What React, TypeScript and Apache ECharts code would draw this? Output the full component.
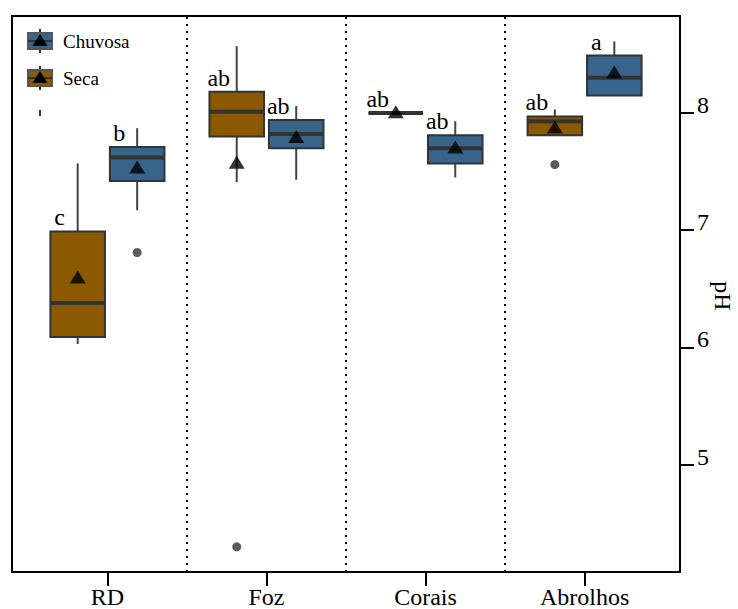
import React, { useEffect, useRef } from "react";
import * as echarts from "echarts";

const sites = ["RD", "Foz", "Corais", "Abrolhos"];
const sitePositions = [1, 2, 3, 4];
const yTicks = [5, 6, 7, 8];

// Seca (dry season)
const secaMin = [6.03, 7.41, 8.0, 7.81];
const secaQ1 = [6.09, 7.8, 8.0, 7.81];
const secaMedian = [6.38, 8.01, 8.0, 7.93];
const secaQ3 = [6.99, 8.18, 8.0, 7.97];
const secaMax = [7.57, 8.57, 8.0, 8.03];
const secaMean = [6.6, 7.58, 8.01, 7.88];
const secaLetters = ["c", "ab", "ab", "ab"];
const secaOutliers: [number, number][] = [
  [1, 4.3],
  [3, 7.56],
];

// Chuvosa (rainy season)
const chuvosaMin = [7.17, 7.43, 7.45, 8.15];
const chuvosaQ1 = [7.42, 7.7, 7.57, 8.15];
const chuvosaMedian = [7.62, 7.82, 7.7, 8.3];
const chuvosaQ3 = [7.71, 7.94, 7.81, 8.49];
const chuvosaMax = [7.87, 8.06, 7.93, 8.61];
const chuvosaMean = [7.54, 7.8, 7.71, 8.35];
const chuvosaLetters = ["b", "ab", "ab", "a"];
const chuvosaOutliers: [number, number][] = [[0, 6.81]];

const BLUE = "#36648B";
const BROWN = "#8B5A00";
const OFFSET = 0.187;
const BOX_WIDTH = 0.343;
const FONT = "Liberation Serif";

function buildBoxes(offset: number, mn: number[], q1: number[], md: number[], q3: number[], mx: number[]) {
  return sitePositions.map((p, i) => [p + offset, mn[i], q1[i], md[i], q3[i], mx[i]]);
}

function makeBoxSeries(name: string, data: number[][], color: string) {
  return {
    type: "custom",
    name,
    z: 3,
    encode: { x: 0, y: [1, 2, 3, 4, 5] },
    data,
    renderItem: (params: any, api: any) => {
      const x = api.value(0);
      const pMin = api.coord([x, api.value(1)]);
      const pQ1 = api.coord([x, api.value(2)]);
      const pMed = api.coord([x, api.value(3)]);
      const pQ3 = api.coord([x, api.value(4)]);
      const pMax = api.coord([x, api.value(5)]);
      const half = api.size([BOX_WIDTH, 0])[0] / 2;
      const cx = pMed[0];
      return {
        type: "group",
        children: [
          {
            type: "line",
            shape: { x1: cx, y1: pQ3[1], x2: cx, y2: pMax[1] },
            style: { stroke: "#444", lineWidth: 2 },
          },
          {
            type: "line",
            shape: { x1: cx, y1: pQ1[1], x2: cx, y2: pMin[1] },
            style: { stroke: "#444", lineWidth: 2 },
          },
          {
            type: "rect",
            shape: { x: cx - half, y: pQ3[1], width: half * 2, height: pQ1[1] - pQ3[1] },
            style: { fill: color, stroke: "#333", lineWidth: 2 },
          },
          {
            type: "line",
            shape: { x1: cx - half, y1: pMed[1], x2: cx + half, y2: pMed[1] },
            style: { stroke: "#333", lineWidth: 4 },
          },
        ],
      };
    },
  };
}

export default function App() {
  const ref = useRef<HTMLDivElement>(null);
  useEffect(() => {
    if (!ref.current) return;
    const chart = echarts.init(ref.current, null, { renderer: "svg" });

    const secaBoxes = buildBoxes(-OFFSET, secaMin, secaQ1, secaMedian, secaQ3, secaMax);
    const chuvosaBoxes = buildBoxes(OFFSET, chuvosaMin, chuvosaQ1, chuvosaMedian, chuvosaQ3, chuvosaMax);
    const means = [
      ...sitePositions.map((p, i) => [p - OFFSET, secaMean[i]]),
      ...sitePositions.map((p, i) => [p + OFFSET, chuvosaMean[i]]),
    ];
    const outliers = [
      ...secaOutliers.map(([i, v]) => [sitePositions[i] - OFFSET, v]),
      ...chuvosaOutliers.map(([i, v]) => [sitePositions[i] + OFFSET, v]),
    ];
    const letterData = [
      ...sitePositions.map((p, i) => ({ value: [p - OFFSET, secaQ3[i]], letter: secaLetters[i] })),
      ...sitePositions.map((p, i) => ({ value: [p + OFFSET, chuvosaQ3[i]], letter: chuvosaLetters[i] })),
    ];

    const legendItems = [
      { label: "Chuvosa", color: BLUE, y: 41 },
      { label: "Seca", color: BROWN, y: 78 },
    ];
    const legendGraphics: any[] = [];
    legendItems.forEach((it) => {
      legendGraphics.push(
        { type: "line", shape: { x1: 40, y1: it.y - 12, x2: 40, y2: it.y + 12 }, style: { stroke: "#333", lineWidth: 2 } },
        { type: "rect", shape: { x: 28, y: it.y - 8, width: 24, height: 16 }, style: { fill: it.color, stroke: "#555", lineWidth: 2 } },
        { type: "line", shape: { x1: 28, y1: it.y, x2: 52, y2: it.y }, style: { stroke: "#333", lineWidth: 2 } },
        { type: "polygon", shape: { points: [[40, it.y - 7], [32.5, it.y + 5], [47.5, it.y + 5]] }, style: { fill: "#000" } },
        { type: "text", x: 63, y: it.y, style: { text: it.label, fontFamily: FONT, fontSize: 19, fill: "#000", verticalAlign: "middle" } }
      );
    });
    legendGraphics.push({ type: "line", shape: { x1: 40, y1: 110, x2: 40, y2: 116 }, style: { stroke: "#333", lineWidth: 2 } });
    legendGraphics.push({
      type: "text",
      x: 723,
      y: 296,
      rotation: -Math.PI / 2,
      style: { text: "pH", fontFamily: FONT, fontSize: 24, fill: "#000", align: "center", verticalAlign: "middle" },
    });

    chart.setOption({
      animation: false,
      backgroundColor: "#fff",
      textStyle: { fontFamily: FONT },
      grid: {
        left: 12,
        right: 58,
        top: 16,
        bottom: 37,
        outerBoundsMode: "none",
        containLabel: false,
        show: true,
        borderColor: "#000",
        borderWidth: 2,
        backgroundColor: "transparent",
      },
      xAxis: {
        type: "value",
        min: 0.4,
        max: 4.6,
        splitLine: { show: false },
        axisLine: { show: true, lineStyle: { color: "#000", width: 2 } },
        axisTick: { show: true, customValues: sitePositions, length: 14, lineStyle: { color: "#000", width: 2 } },
        axisLabel: {
          customValues: sitePositions,
          formatter: (v: number) => sites[Math.round(v) - 1] ?? "",
          fontFamily: FONT,
          fontSize: 24,
          lineHeight: 20,
          color: "#000",
          margin: 15,
        },
      },
      yAxis: {
        type: "value",
        position: "right",
        min: 4.085,
        max: 8.827,
        splitLine: { show: false },
        axisLine: { show: true, lineStyle: { color: "#000", width: 2 } },
        axisTick: { show: true, customValues: yTicks, length: 14, lineStyle: { color: "#000", width: 2 } },
        axisLabel: {
          customValues: yTicks,
          fontFamily: FONT,
          fontSize: 24,
          color: "#000",
          margin: 17,
          verticalAlign: "bottom",
          lineHeight: 16,
        },
      },
      graphic: legendGraphics,
      series: [
        {
          ...makeBoxSeries("Seca", secaBoxes, BROWN),
          markLine: {
            silent: true,
            symbol: "none",
            label: { show: false },
            lineStyle: { color: "#000", type: [2, 5], width: 2 },
            data: [{ xAxis: 1.5 }, { xAxis: 2.5 }, { xAxis: 3.5 }],
          },
        },
        makeBoxSeries("Chuvosa", chuvosaBoxes, BLUE),
        {
          type: "scatter",
          name: "outliers",
          z: 4,
          data: outliers,
          symbol: "circle",
          symbolSize: 9,
          itemStyle: { color: "#333" },
        },
        {
          type: "scatter",
          name: "means",
          z: 5,
          data: means,
          symbol: "triangle",
          symbolSize: [16, 13],
          itemStyle: { color: "#000" },
        },
        {
          type: "scatter",
          name: "letters",
          z: 6,
          silent: true,
          data: letterData,
          symbolSize: 0,
          itemStyle: { color: "#000", opacity: 1 },
          label: {
            show: true,
            position: "top",
            distance: 3,
            offset: [-18, 0],
            formatter: (p: any) => p.data.letter,
            fontFamily: FONT,
            fontSize: 24,
            lineHeight: 22,
            color: "#000",
            opacity: 1,
          },
        },
      ],
    });
    return () => chart.dispose();
  }, []);
  return <div ref={ref} style={{ width: 738, height: 609, position: "absolute", left: 0, top: 0 }} />;
}
